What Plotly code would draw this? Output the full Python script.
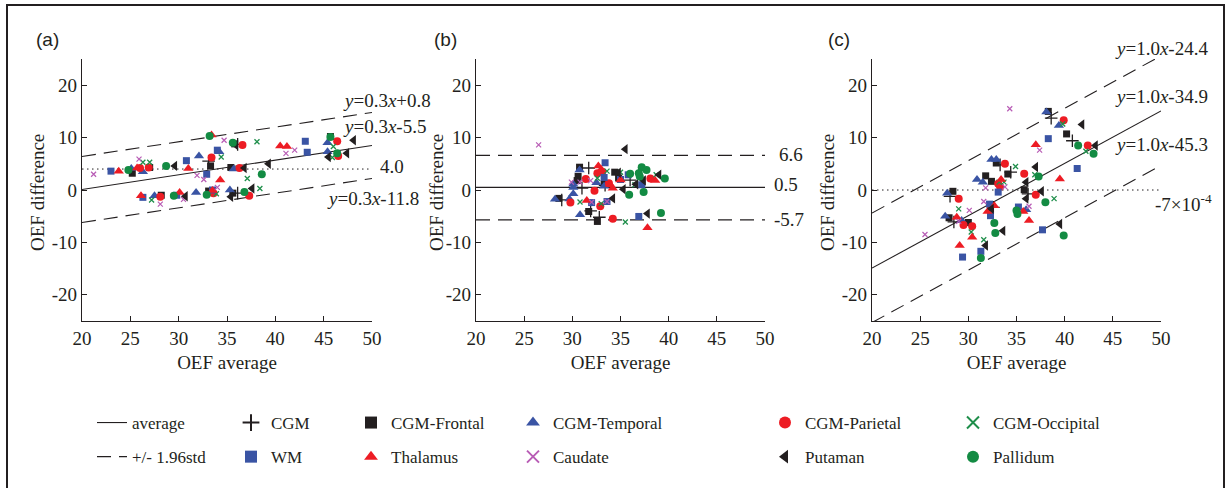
import plotly.graph_objects as go

# ---------------- data ----------------
categories = ["CGM", "CGM-Frontal", "CGM-Temporal", "CGM-Parietal", "CGM-Occipital",
              "WM", "Thalamus", "Caudate", "Putaman", "Pallidum"]

x_ticks = [20, 25, 30, 35, 40, 45, 50]
x_tick_labels = ["20", "25", "30", "35", "40", "45", "50"]
y_ticks = [-20, -10, 0, 10, 20]
y_tick_labels = ["-20", "-10", "0", "10", "20"]

# panel (a)
a_cgm = [(33.1, 5.5), (36.1, -0.6), (36.1, 8.7)]
a_frontal = [(25.2, 3.2), (27.0, 4.3), (28.2, -1.0), (33.1, -0.2), (33.3, 4.6),
             (35.4, 4.3), (35.8, 8.8), (45.7, 10.2), (35.6, -0.6)]
a_temporal = [(25.1, 4.1), (26.3, 3.5), (32.1, 6.5), (34.2, 7.3), (35.7, 4.0),
              (45.4, 9.0), (45.4, 7.3), (27.5, -1.1), (31.8, -0.5), (35.3, 0.0)]
a_parietal = [(26.0, 4.2), (26.9, 4.3), (33.4, 6.2), (36.6, 8.6), (36.3, 4.2),
              (46.4, 9.3), (46.5, 6.5), (28.1, -1.3), (33.6, -0.6), (37.3, -1.1)]
a_occipital = [(26.3, 5.3), (27.0, 5.3), (34.4, 6.3), (38.1, 9.2), (37.1, 2.2),
               (46.0, 8.3), (45.9, 6.2), (27.2, -1.9), (33.9, -0.7), (38.4, 0.3)]
a_wm = [(23.0, 3.6), (30.8, 5.6), (34.0, 7.6), (32.9, 3.0), (43.1, 9.3),
        (43.3, 7.2), (26.3, -1.4), (29.8, -1.0), (33.5, 0.0)]
a_thalamus = [(23.8, 3.6), (25.7, 4.2), (31.0, 4.1), (33.4, 10.5), (34.3, 1.9),
              (40.5, 8.4), (41.2, 8.3), (26.1, -1.1), (30.1, -0.5), (33.5, -0.1)]
a_caudate = [(21.2, 3.0), (25.9, 5.9), (34.7, 9.5), (31.9, 2.8), (32.6, 2.0),
             (41.1, 7.0), (42.0, 7.6), (28.1, -2.7), (30.5, -1.8), (34.0, 0.5)]
a_putaman = [(29.6, 4.6), (36.8, 4.2), (39.3, 5.0), (48.1, 9.5), (47.4, 7.0),
             (45.5, 6.3), (30.7, -1.2), (35.4, -1.3), (37.6, 0.3), (35.9, 8.6)]
a_pallidum = [(24.8, 3.8), (28.7, 4.6), (33.2, 10.3), (35.6, 9.0), (38.6, 3.0),
              (45.7, 10.1), (46.4, 7.0), (29.5, -1.1), (32.9, -0.9), (36.8, -0.4)]

# panel (b)
b_cgm = [(31.7, 4.2), (31.0, 0.35), (36.0, 1.9), (28.9, -1.9), (31.9, -4.0),
         (32.8, -5.2), (33.4, 0.9)]
b_frontal = [(30.75, 4.35), (30.6, 2.6), (30.5, 1.8), (33.3, 1.2), (34.4, 3.4),
             (34.8, 2.3), (28.6, -1.6), (31.7, -4.1), (32.6, -6.0)]
b_temporal = [(30.75, 3.8), (30.1, 1.1), (30.1, 0.5), (32.5, 1.4), (33.3, 0.7),
              (28.2, -1.75), (29.7, -1.7), (30.1, -0.7), (30.8, -4.7)]
b_parietal = [(33.1, 3.5), (32.6, 3.2), (31.4, 2.1), (32.3, -0.15), (33.8, 1.3),
              (38.1, 2.2), (29.8, -2.4), (32.9, -3.1), (34.2, -5.5)]
b_occipital = [(32.6, 2.25), (33.6, 3.6), (36.5, 1.0), (38.7, 2.9), (30.8, -2.3),
               (33.0, -2.6), (35.5, -6.1), (35.0, 3.4)]
b_wm = [(33.4, 5.2), (33.3, 2.4), (35.8, 2.9), (37.2, 1.0), (32.0, -2.4),
        (33.6, -2.2), (36.9, -5.05), (35.0, 2.0)]
b_thalamus = [(32.7, 4.6), (33.9, 1.1), (34.2, 0.35), (35.0, 1.9), (38.6, 1.8),
              (31.5, -2.0), (37.8, -7.2), (33.0, 3.9)]
b_caudate = [(26.5, 8.6), (29.9, 1.5), (30.8, 1.5), (31.9, 1.8), (32.0, -2.3),
             (33.6, -2.2)]
b_putaman = [(35.5, 7.8), (34.8, 3.3), (37.0, 3.5), (36.6, 1.1), (37.4, 1.8),
             (39.0, 2.9), (35.3, 0.15), (34.2, -1.6), (37.8, -4.5)]
b_pallidum = [(36.0, 3.1), (37.2, 4.35), (37.7, 3.8), (37.0, 2.6), (36.9, 3.2),
              (35.9, -0.9), (37.4, -0.4), (39.6, 2.2), (39.2, -4.4)]

# panel (c)
c_cgm = [(28.5, -6.1), (28.1, -1.2), (33.3, 4.8), (34.4, 3.4), (36.2, -0.75),
         (38.6, 13.7), (40.8, 9.4), (32.6, -3.3)]
c_frontal = [(28.0, -5.3), (28.4, -0.25), (30.0, -6.2), (31.8, 2.7), (32.9, 5.15),
             (32.4, 1.65), (34.1, 3.05), (35.8, 0.06), (38.3, 15.0), (40.2, 10.7)]
c_temporal = [(27.6, -5.0), (27.8, -0.6), (29.3, -5.8), (30.9, 2.0), (31.5, 1.5),
              (32.4, 5.8), (32.9, 5.8), (36.0, -3.75), (38.1, 14.9), (39.4, 12.3)]
c_parietal = [(29.0, -1.65), (29.5, -6.7), (30.4, -6.9), (33.8, 5.0), (33.1, 1.2),
              (35.8, 3.1), (37.0, -0.9), (39.9, 13.3), (42.4, 8.5), (33.3, 0.6)]
c_occipital = [(29.0, -3.6), (30.3, -8.0), (31.6, -9.5), (33.2, 1.5), (33.7, 1.5),
               (34.9, 4.5), (36.9, 2.9), (38.9, -1.65), (39.8, 12.6), (42.2, 7.4)]
c_wm = [(29.4, -12.8), (31.3, -11.7), (32.2, -2.7), (32.3, -4.9), (33.1, -0.4),
        (35.2, -3.25), (37.7, -7.6), (38.3, 9.8), (41.3, 4.1)]
c_thalamus = [(28.8, -5.2), (29.1, -10.6), (30.4, -9.0), (32.0, -4.1), (32.7, -3.0),
              (33.4, 2.0), (35.7, -4.1), (36.3, -5.8), (37.0, 8.65), (39.5, 2.1)]
c_caudate = [(25.5, -8.5), (29.0, -6.0), (30.1, -3.9), (31.8, 0.4), (31.6, -2.2),
             (33.8, 0.6), (34.3, 15.5), (36.3, -3.1), (37.4, 7.6)]
c_putaman = [(31.8, -10.6), (32.4, -3.6), (33.6, -7.8), (36.0, -1.65), (36.0, 1.5),
             (37.0, 4.4), (37.6, -0.25), (39.5, -6.5), (41.8, 12.5), (43.2, 8.5)]
c_pallidum = [(31.3, -13.0), (32.7, -6.3), (32.8, -8.2), (35.0, -3.9), (35.1, -4.6),
              (37.3, 2.6), (38.0, -2.35), (39.9, -8.7), (41.4, 8.5), (43.0, 6.9)]

# regression / limit lines: (slope, intercept) for mean, upper, lower; reference dotted line
a_lines = {"mean": (0.28, -5.5), "upper": (0.28, 0.8), "lower": (0.28, -11.8)}
a_ref = 4.0
b_lines = {"mean": (0.0, 0.5), "upper": (0.0, 6.6), "lower": (0.0, -5.7)}
c_lines = {"mean": (1.0, -34.9), "upper": (1.0, -24.4), "lower": (1.0, -45.3)}
c_ref = -7e-4

a_labels = ["<i>y</i>=0.3<i>x</i>+0.8", "<i>y</i>=0.3<i>x</i>-5.5", "4.0", "<i>y</i>=0.3<i>x</i>-11.8"]
b_labels = ["6.6", "0.5", "-5.7"]
c_labels = ["<i>y</i>=1.0<i>x</i>-24.4", "<i>y</i>=1.0<i>x</i>-34.9", "<i>y</i>=1.0<i>x</i>-45.3",
            "-7×10<sup>-4</sup>"]
y_title = "OEF difference"
x_title = "OEF average"

panels = [
    [a_cgm, a_frontal, a_temporal, a_parietal, a_occipital, a_wm, a_thalamus, a_caudate, a_putaman, a_pallidum],
    [b_cgm, b_frontal, b_temporal, b_parietal, b_occipital, b_wm, b_thalamus, b_caudate, b_putaman, b_pallidum],
    [c_cgm, c_frontal, c_temporal, c_parietal, c_occipital, c_wm, c_thalamus, c_caudate, c_putaman, c_pallidum],
]

# ---------------- styles ----------------
BLACK = "#231F20"
BLUE = "#3A54A4"
RED = "#ED1C24"
GREEN = "#138B43"
GREENX = "#1E8E4A"
PINK = "#B85CB5"
SERIF = "Liberation Serif, Times New Roman, serif"
SANS = "Liberation Sans, Arial, sans-serif"

styles = {
    "CGM": dict(symbol="cross-thin", size=9, color=BLACK, line=1.3),
    "CGM-Frontal": dict(symbol="square", size=7, color=BLACK, line=0),
    "CGM-Temporal": dict(symbol="triangle-up", size=9, color=BLUE, line=0),
    "CGM-Parietal": dict(symbol="circle", size=8, color=RED, line=0),
    "CGM-Occipital": dict(symbol="x-thin", size=5, color=GREENX, line=1.3),
    "WM": dict(symbol="square", size=7, color=BLUE, line=0),
    "Thalamus": dict(symbol="triangle-up", size=9, color=RED, line=0),
    "Caudate": dict(symbol="x-thin", size=5, color=PINK, line=1.2),
    "Putaman": dict(symbol="triangle-left", size=9, color=BLACK, line=0),
    "Pallidum": dict(symbol="circle", size=8, color=GREEN, line=0),
}
legend_of = {"CGM": "legend2", "WM": "legend2",
             "CGM-Frontal": "legend3", "Thalamus": "legend3",
             "CGM-Temporal": "legend4", "Caudate": "legend4",
             "CGM-Parietal": "legend5", "Putaman": "legend5",
             "CGM-Occipital": "legend6", "Pallidum": "legend6"}
rank_of = {"CGM": 1, "WM": 2, "CGM-Frontal": 1, "Thalamus": 2, "CGM-Temporal": 1,
           "Caudate": 2, "CGM-Parietal": 1, "Putaman": 2, "CGM-Occipital": 1, "Pallidum": 2}

W, H = 1228, 488
def px(x):
    return x / W
def py(y):
    return 1 - y / H

x_domains = [(px(82), px(372)), (px(476), px(765)), (px(872), px(1161))]
y_domain = (py(321), py(59))

DASH = "14px,8px"
DOT = "1.5px,3.5px"

fig = go.Figure()
xr = [20, 50]

for p, (pdata, lines) in enumerate(zip(panels, [a_lines, b_lines, c_lines])):
    xa = "x" if p == 0 else f"x{p+1}"
    ya = "y" if p == 0 else f"y{p+1}"
    if p == 0:
        fig.add_trace(go.Scatter(x=xr, y=[a_ref, a_ref], mode="lines", xaxis=xa, yaxis=ya,
                                 line=dict(color=BLACK, width=1, dash=DOT), showlegend=False, hoverinfo="skip"))
    if p == 2:
        fig.add_trace(go.Scatter(x=xr, y=[c_ref, c_ref], mode="lines", xaxis=xa, yaxis=ya,
                                 line=dict(color=BLACK, width=1, dash=DOT), showlegend=False, hoverinfo="skip"))
    for key in ["mean", "upper", "lower"]:
        s, b = lines[key]
        name = "average" if key == "mean" else "+/- 1.96std"
        show = (p == 0 and key in ("mean", "upper"))
        fig.add_trace(go.Scatter(
            x=xr, y=[s * v + b for v in xr], mode="lines", xaxis=xa, yaxis=ya,
            line=dict(color=BLACK, width=1.1, dash=None if key == "mean" else DASH),
            name=name, legendgroup=name, showlegend=show, legend="legend",
            legendrank=1 if key == "mean" else 2, hoverinfo="skip"))
    for cat, pts in zip(categories, pdata):
        st = styles[cat]
        marker = dict(symbol=st["symbol"], size=st["size"], color=st["color"],
                      line=dict(width=st["line"], color=st["color"]))
        fig.add_trace(go.Scatter(
            x=[q[0] for q in pts], y=[q[1] for q in pts], mode="markers",
            xaxis=xa, yaxis=ya, marker=marker, name=cat, legendgroup=cat,
            showlegend=(p == 0), legend=legend_of[cat], legendrank=rank_of[cat]))

axis_common = dict(range=[-25, 25], tickvals=y_ticks, ticktext=y_tick_labels,
                   showline=True, linecolor=BLACK, linewidth=1.2, ticks="inside",
                   ticklen=5, tickcolor=BLACK, showgrid=False, zeroline=False, automargin=False,
                   tickfont=dict(family=SERIF, size=19, color=BLACK))
xaxis_common = dict(range=xr, tickvals=x_ticks, ticktext=x_tick_labels,
                    showline=True, linecolor=BLACK, linewidth=1.2, ticks="inside",
                    ticklen=5, tickcolor=BLACK, showgrid=False, zeroline=False, automargin=False,
                    tickfont=dict(family=SERIF, size=19, color=BLACK),
                    title=dict(text=x_title, font=dict(family=SERIF, size=19, color=BLACK), standoff=7))

layout = dict(width=W, height=H, margin=dict(l=0, r=0, t=0, b=0, autoexpand=False),
              paper_bgcolor="white", plot_bgcolor="white")
for p in range(3):
    xk = "xaxis" if p == 0 else f"xaxis{p+1}"
    yk = "yaxis" if p == 0 else f"yaxis{p+1}"
    yname = "y" if p == 0 else f"y{p+1}"
    xname = "x" if p == 0 else f"x{p+1}"
    layout[xk] = dict(xaxis_common, domain=list(x_domains[p]), anchor=yname)
    layout[yk] = dict(axis_common, domain=list(y_domain), anchor=xname)

legend_common = dict(orientation="v", bgcolor="rgba(0,0,0,0)", borderwidth=0,
                     font=dict(family=SERIF, size=17, color=BLACK), itemsizing="constant",
                     tracegroupgap=9, xanchor="left", yanchor="top", itemclick=False, itemdoubleclick=False)
legend_x = [92, 231, 351, 513, 765, 953]
for i, lx in enumerate(legend_x):
    key = "legend" if i == 0 else f"legend{i+1}"
    layout[key] = dict(legend_common, x=px(lx), y=py(405))
layout["legend"]["itemsizing"] = "trace"

fig.update_layout(**layout)

# y-axis titles (rotated text next to each panel)
for tx in [38, 437, 828]:
    fig.add_annotation(text=y_title, x=px(tx), y=py(193), xref="paper", yref="paper",
                       xanchor="center", yanchor="middle", textangle=-90, showarrow=False,
                       font=dict(family=SERIF, size=19, color=BLACK))

# panel labels
for lbl, lx in zip(["(a)", "(b)", "(c)"], [34, 432, 826]):
    fig.add_annotation(text=lbl, x=px(lx), y=py(40), xref="paper", yref="paper",
                       xanchor="left", yanchor="middle", showarrow=False,
                       font=dict(family=SANS, size=19, color=BLACK))

def label(text, x, y):
    fig.add_annotation(text=text, x=px(x), y=py(y), xref="paper", yref="paper",
                       xanchor="left", yanchor="middle", showarrow=False,
                       font=dict(family=SERIF, size=19, color=BLACK))

for t, (x, y) in zip(a_labels, [(341, 101), (341, 126), (378, 166), (325, 198)]):
    label(t, x, y)
for t, (x, y) in zip(b_labels, [(777, 154), (772, 184), (772, 219)]):
    label(t, x, y)
for t, (x, y) in zip(c_labels, [(1113, 48), (1113, 97), (1113, 144), (1153, 203)]):
    label(t, x, y)

# outer frame
fig.add_shape(type="rect", xref="paper", yref="paper", x0=px(7), x1=px(1224), y0=-0.05, y1=py(5),
              line=dict(color=BLACK, width=2), fillcolor="rgba(0,0,0,0)", layer="below")

fig.write_html("out.html")
